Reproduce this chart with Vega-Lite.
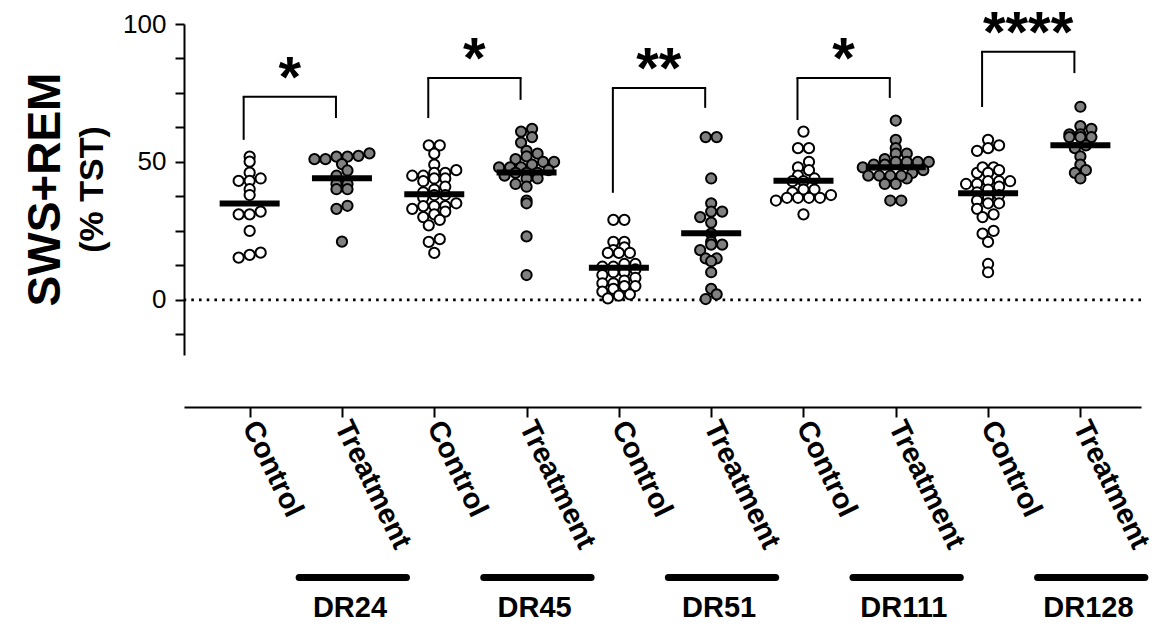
{
"$schema":"https://vega.github.io/schema/vega-lite/v6.json",
"width":957,"height":331,
"autosize":{"type":"none"},
"padding":{"left":184,"top":24,"right":17,"bottom":280},
"background":"white",
"config":{"view":{"stroke":null},"font":"Liberation Sans","axis":{"labelColor":"black","domainColor":"black","tickColor":"black","domainWidth":2,"tickWidth":2,"grid":false,"labelFont":"Liberation Sans"}},
"title":{"text":"SWS+REM","subtitle":"(% TST)","orient":"left","anchor":"middle","frame":"group","font":"Liberation Sans","fontSize":46,"fontWeight":"bold","color":"black","subtitleFont":"Liberation Sans","subtitleFontSize":34,"subtitleFontWeight":"bold","subtitleColor":"black","subtitlePadding":6,"offset":12},
"datasets":{
"pts":[
{"s":"DR24 Control","v":51.9},{"s":"DR24 Control","v":50.1},{"s":"DR24 Control","v":46.1},{"s":"DR24 Control","v":43.1},{"s":"DR24 Control","v":43.1},{"s":"DR24 Control","v":44.0},{"s":"DR24 Control","v":40.1},{"s":"DR24 Control","v":38.0},{"s":"DR24 Control","v":32.0},{"s":"DR24 Control","v":31.0},{"s":"DR24 Control","v":31.0},{"s":"DR24 Control","v":25.0},{"s":"DR24 Control","v":15.3},{"s":"DR24 Control","v":17.1},{"s":"DR24 Control","v":16.3},
{"s":"DR24 Treatment","v":51.0},{"s":"DR24 Treatment","v":51.9},{"s":"DR24 Treatment","v":53.1},{"s":"DR24 Treatment","v":52.2},{"s":"DR24 Treatment","v":51.0},{"s":"DR24 Treatment","v":51.9},{"s":"DR24 Treatment","v":49.2},{"s":"DR24 Treatment","v":46.9},{"s":"DR24 Treatment","v":45.0},{"s":"DR24 Treatment","v":42.0},{"s":"DR24 Treatment","v":42.0},{"s":"DR24 Treatment","v":40.1},{"s":"DR24 Treatment","v":40.1},{"s":"DR24 Treatment","v":33.0},{"s":"DR24 Treatment","v":34.1},{"s":"DR24 Treatment","v":21.1},
{"s":"DR45 Control","v":56},{"s":"DR45 Control","v":56},{"s":"DR45 Control","v":53},{"s":"DR45 Control","v":49},{"s":"DR45 Control","v":47},{"s":"DR45 Control","v":46},{"s":"DR45 Control","v":46},{"s":"DR45 Control","v":45},{"s":"DR45 Control","v":45},{"s":"DR45 Control","v":44},{"s":"DR45 Control","v":44},{"s":"DR45 Control","v":43},{"s":"DR45 Control","v":41},{"s":"DR45 Control","v":40},{"s":"DR45 Control","v":39},{"s":"DR45 Control","v":38},{"s":"DR45 Control","v":38},{"s":"DR45 Control","v":37},{"s":"DR45 Control","v":35},{"s":"DR45 Control","v":34},{"s":"DR45 Control","v":34},{"s":"DR45 Control","v":34},{"s":"DR45 Control","v":33},{"s":"DR45 Control","v":32},{"s":"DR45 Control","v":31},{"s":"DR45 Control","v":30},{"s":"DR45 Control","v":29},{"s":"DR45 Control","v":27},{"s":"DR45 Control","v":22},{"s":"DR45 Control","v":21},{"s":"DR45 Control","v":17},
{"s":"DR45 Treatment","v":62},{"s":"DR45 Treatment","v":61},{"s":"DR45 Treatment","v":59},{"s":"DR45 Treatment","v":57},{"s":"DR45 Treatment","v":54},{"s":"DR45 Treatment","v":53},{"s":"DR45 Treatment","v":52},{"s":"DR45 Treatment","v":51},{"s":"DR45 Treatment","v":50},{"s":"DR45 Treatment","v":50},{"s":"DR45 Treatment","v":49},{"s":"DR45 Treatment","v":48},{"s":"DR45 Treatment","v":48},{"s":"DR45 Treatment","v":48},{"s":"DR45 Treatment","v":47},{"s":"DR45 Treatment","v":46},{"s":"DR45 Treatment","v":46},{"s":"DR45 Treatment","v":46},{"s":"DR45 Treatment","v":45},{"s":"DR45 Treatment","v":44},{"s":"DR45 Treatment","v":44},{"s":"DR45 Treatment","v":42},{"s":"DR45 Treatment","v":41},{"s":"DR45 Treatment","v":36},{"s":"DR45 Treatment","v":35},{"s":"DR45 Treatment","v":23},{"s":"DR45 Treatment","v":9},
{"s":"DR51 Control","v":29},{"s":"DR51 Control","v":29},{"s":"DR51 Control","v":21},{"s":"DR51 Control","v":21},{"s":"DR51 Control","v":19},{"s":"DR51 Control","v":18},{"s":"DR51 Control","v":17},{"s":"DR51 Control","v":17},{"s":"DR51 Control","v":17},{"s":"DR51 Control","v":13},{"s":"DR51 Control","v":13},{"s":"DR51 Control","v":12},{"s":"DR51 Control","v":12},{"s":"DR51 Control","v":11},{"s":"DR51 Control","v":10},{"s":"DR51 Control","v":10},{"s":"DR51 Control","v":9},{"s":"DR51 Control","v":8},{"s":"DR51 Control","v":7},{"s":"DR51 Control","v":6},{"s":"DR51 Control","v":5},{"s":"DR51 Control","v":6},{"s":"DR51 Control","v":5},{"s":"DR51 Control","v":4},{"s":"DR51 Control","v":2},{"s":"DR51 Control","v":3},{"s":"DR51 Control","v":0.5},{"s":"DR51 Control","v":1.5},
{"s":"DR51 Treatment","v":59},{"s":"DR51 Treatment","v":59},{"s":"DR51 Treatment","v":44},{"s":"DR51 Treatment","v":35},{"s":"DR51 Treatment","v":32},{"s":"DR51 Treatment","v":32},{"s":"DR51 Treatment","v":30},{"s":"DR51 Treatment","v":28},{"s":"DR51 Treatment","v":24},{"s":"DR51 Treatment","v":21},{"s":"DR51 Treatment","v":20},{"s":"DR51 Treatment","v":20},{"s":"DR51 Treatment","v":18},{"s":"DR51 Treatment","v":15},{"s":"DR51 Treatment","v":15},{"s":"DR51 Treatment","v":14},{"s":"DR51 Treatment","v":10},{"s":"DR51 Treatment","v":4},{"s":"DR51 Treatment","v":2},{"s":"DR51 Treatment","v":0.3},
{"s":"DR111 Control","v":61},{"s":"DR111 Control","v":55},{"s":"DR111 Control","v":55},{"s":"DR111 Control","v":50},{"s":"DR111 Control","v":48},{"s":"DR111 Control","v":47},{"s":"DR111 Control","v":45},{"s":"DR111 Control","v":44},{"s":"DR111 Control","v":43},{"s":"DR111 Control","v":43},{"s":"DR111 Control","v":40},{"s":"DR111 Control","v":40},{"s":"DR111 Control","v":39},{"s":"DR111 Control","v":38},{"s":"DR111 Control","v":37},{"s":"DR111 Control","v":37},{"s":"DR111 Control","v":37},{"s":"DR111 Control","v":37},{"s":"DR111 Control","v":36},{"s":"DR111 Control","v":31},
{"s":"DR111 Treatment","v":65},{"s":"DR111 Treatment","v":58},{"s":"DR111 Treatment","v":55},{"s":"DR111 Treatment","v":53},{"s":"DR111 Treatment","v":53},{"s":"DR111 Treatment","v":51},{"s":"DR111 Treatment","v":50},{"s":"DR111 Treatment","v":50},{"s":"DR111 Treatment","v":50},{"s":"DR111 Treatment","v":50},{"s":"DR111 Treatment","v":49},{"s":"DR111 Treatment","v":49},{"s":"DR111 Treatment","v":48},{"s":"DR111 Treatment","v":47},{"s":"DR111 Treatment","v":46},{"s":"DR111 Treatment","v":45},{"s":"DR111 Treatment","v":45},{"s":"DR111 Treatment","v":45},{"s":"DR111 Treatment","v":44},{"s":"DR111 Treatment","v":45},{"s":"DR111 Treatment","v":42},{"s":"DR111 Treatment","v":42},{"s":"DR111 Treatment","v":36},{"s":"DR111 Treatment","v":36},
{"s":"DR128 Control","v":58},{"s":"DR128 Control","v":56},{"s":"DR128 Control","v":55},{"s":"DR128 Control","v":54},{"s":"DR128 Control","v":46},{"s":"DR128 Control","v":48},{"s":"DR128 Control","v":48},{"s":"DR128 Control","v":47},{"s":"DR128 Control","v":46},{"s":"DR128 Control","v":43},{"s":"DR128 Control","v":43},{"s":"DR128 Control","v":43},{"s":"DR128 Control","v":42},{"s":"DR128 Control","v":42},{"s":"DR128 Control","v":39},{"s":"DR128 Control","v":41},{"s":"DR128 Control","v":38},{"s":"DR128 Control","v":40},{"s":"DR128 Control","v":37},{"s":"DR128 Control","v":35},{"s":"DR128 Control","v":35},{"s":"DR128 Control","v":36},{"s":"DR128 Control","v":33},{"s":"DR128 Control","v":31},{"s":"DR128 Control","v":30},{"s":"DR128 Control","v":25},{"s":"DR128 Control","v":24},{"s":"DR128 Control","v":21},{"s":"DR128 Control","v":13},{"s":"DR128 Control","v":10},
{"s":"DR128 Treatment","v":70},{"s":"DR128 Treatment","v":63},{"s":"DR128 Treatment","v":62},{"s":"DR128 Treatment","v":60},{"s":"DR128 Treatment","v":60},{"s":"DR128 Treatment","v":59},{"s":"DR128 Treatment","v":59},{"s":"DR128 Treatment","v":59},{"s":"DR128 Treatment","v":56},{"s":"DR128 Treatment","v":55},{"s":"DR128 Treatment","v":52},{"s":"DR128 Treatment","v":49},{"s":"DR128 Treatment","v":47},{"s":"DR128 Treatment","v":46},{"s":"DR128 Treatment","v":44}
],
"legs":[
{"g":"DR24","s":"DR24 Control","top":73.6,"bot":58},{"g":"DR24","s":"DR24 Treatment","top":73.6,"bot":65.9},
{"g":"DR45","s":"DR45 Control","top":80.4,"bot":65.9},{"g":"DR45","s":"DR45 Treatment","top":80.4,"bot":72.5},
{"g":"DR51","s":"DR51 Control","top":76.8,"bot":38.8},{"g":"DR51","s":"DR51 Treatment","top":76.8,"bot":69.6},
{"g":"DR111","s":"DR111 Control","top":80.4,"bot":65.2},{"g":"DR111","s":"DR111 Treatment","top":80.4,"bot":73.2},
{"g":"DR128","s":"DR128 Control","top":89.9,"bot":69.9},{"g":"DR128","s":"DR128 Treatment","top":89.9,"bot":82.2}
],
"grp":[
{"c":"DR24 Control","t":"DR24 Treatment","lab":"DR24","star":"*","top":73.6},
{"c":"DR45 Control","t":"DR45 Treatment","lab":"DR45","star":"*","top":80.4},
{"c":"DR51 Control","t":"DR51 Treatment","lab":"DR51","star":"**","top":76.8},
{"c":"DR111 Control","t":"DR111 Treatment","lab":"DR111","star":"*","top":80.4},
{"c":"DR128 Control","t":"DR128 Treatment","lab":"DR128","star":"****","top":89.9}
]
},
"layer":[
{"data":{"values":[{}]},"mark":{"type":"rule","color":"black","strokeWidth":2.6,"strokeDash":[2.6,5.1]},"encoding":{"y":{"datum":0,"type":"quantitative","scale":{"domain":[-20,100],"nice":false,"zero":false}}}},
{"data":{"name":"pts"},
 "transform":[
  {"bin":{"step":3},"field":"v","as":"vb"},
  {"window":[{"op":"row_number","as":"k"}],"groupby":["s","vb"],"sort":[{"field":"v"}]},
  {"joinaggregate":[{"op":"count","as":"n"}],"groupby":["s","vb"]},
  {"calculate":"datum.k - (datum.n + 1) / 2","as":"slot"}
 ],
 "mark":{"type":"circle","size":105,"stroke":"black","strokeWidth":2,"opacity":1},
 "encoding":{
  "x":{"field":"s","type":"nominal","title":null,"scale":{"type":"point","domain":["DR24 Control","DR24 Treatment","DR45 Control","DR45 Treatment","DR51 Control","DR51 Treatment","DR111 Control","DR111 Treatment","DR128 Control","DR128 Treatment"],"padding":0.684,"align":0.52},
   "axis":{"orient":"bottom","offset":52,"tickSize":10,"labelAngle":64,"labelAlign":"left","labelBaseline":"middle","labelFontSize":29,"labelFontWeight":"bold","labelPadding":5,"labelOverlap":false,"labelBound":false,"labelLimit":0,"labelExpr":"split(datum.label,' ')[1]"}},
  "xOffset":{"field":"slot","type":"quantitative","scale":{"domain":[-1,1],"range":[-11,11]}},
  "y":{"field":"v","type":"quantitative","title":null,"scale":{"domain":[-20,100],"nice":false,"zero":false},
   "axis":{"values":[-12.5,0,12.5,25,37.5,50,62.5,75,87.5,100],"tickCount":40,"labelExpr":"datum.value % 50 == 0 ? datum.label : ''","labelOverlap":false,"tickSize":9,"labelFontSize":26,"labelPadding":9}},
  "fill":{"condition":{"test":"indexof(datum.s,'Control') >= 0","value":"white"},"value":"#808080"}
 }},
{"data":{"name":"pts"},"mark":{"type":"tick","color":"black","thickness":6,"size":60},
 "encoding":{
  "x":{"field":"s","type":"nominal","title":null,"scale":{"type":"point","domain":["DR24 Control","DR24 Treatment","DR45 Control","DR45 Treatment","DR51 Control","DR51 Treatment","DR111 Control","DR111 Treatment","DR128 Control","DR128 Treatment"],"padding":0.684,"align":0.52}},
  "y":{"aggregate":"mean","field":"v","type":"quantitative","title":null,"scale":{"domain":[-20,100],"nice":false,"zero":false}}
 }},
{"data":{"name":"legs"},"mark":{"type":"rule","color":"black","strokeWidth":2,"xOffset":-6},
 "encoding":{
  "x":{"field":"s","type":"nominal","title":null,"scale":{"type":"point","domain":["DR24 Control","DR24 Treatment","DR45 Control","DR45 Treatment","DR51 Control","DR51 Treatment","DR111 Control","DR111 Treatment","DR128 Control","DR128 Treatment"],"padding":0.684,"align":0.52}},
  "y":{"field":"top","type":"quantitative","title":null,"scale":{"domain":[-20,100],"nice":false,"zero":false}},
  "y2":{"field":"bot"}
 }},
{"data":{"name":"legs"},"mark":{"type":"line","color":"black","strokeWidth":2,"xOffset":-6,"strokeCap":"square"},
 "encoding":{
  "x":{"field":"s","type":"nominal","title":null,"scale":{"type":"point","domain":["DR24 Control","DR24 Treatment","DR45 Control","DR45 Treatment","DR51 Control","DR51 Treatment","DR111 Control","DR111 Treatment","DR128 Control","DR128 Treatment"],"padding":0.684,"align":0.52}},
  "y":{"field":"top","type":"quantitative","title":null,"scale":{"domain":[-20,100],"nice":false,"zero":false}},
  "detail":{"field":"g"}
 }},
{"data":{"name":"grp"},"mark":{"type":"text","font":"Liberation Sans","fontSize":58,"fontWeight":"bold","align":"center","baseline":"alphabetic","dx":40,"dy":0,"color":"black"},
 "encoding":{
  "x":{"field":"c","type":"nominal","title":null,"scale":{"type":"point","domain":["DR24 Control","DR24 Treatment","DR45 Control","DR45 Treatment","DR51 Control","DR51 Treatment","DR111 Control","DR111 Treatment","DR128 Control","DR128 Treatment"],"padding":0.684,"align":0.52}},
  "y":{"field":"top","type":"quantitative","title":null,"scale":{"domain":[-20,100],"nice":false,"zero":false}},
  "text":{"field":"star"}
 }},
{"data":{"name":"grp"},"mark":{"type":"rule","color":"black","strokeWidth":7,"strokeCap":"round","xOffset":49.5,"x2Offset":64.5},
 "encoding":{
  "x":{"field":"c","type":"nominal","title":null,"scale":{"type":"point","domain":["DR24 Control","DR24 Treatment","DR45 Control","DR45 Treatment","DR51 Control","DR51 Treatment","DR111 Control","DR111 Treatment","DR128 Control","DR128 Treatment"],"padding":0.684,"align":0.52}},
  "x2":{"field":"t"},
  "y":{"datum":-100.7,"type":"quantitative","scale":{"domain":[-20,100],"nice":false,"zero":false}}
 }},
{"data":{"name":"grp"},"mark":{"type":"text","font":"Liberation Sans","fontSize":29,"fontWeight":"bold","align":"center","baseline":"middle","dx":8,"color":"black"},
 "encoding":{
  "x":{"field":"t","type":"nominal","title":null,"scale":{"type":"point","domain":["DR24 Control","DR24 Treatment","DR45 Control","DR45 Treatment","DR51 Control","DR51 Treatment","DR111 Control","DR111 Treatment","DR128 Control","DR128 Treatment"],"padding":0.684,"align":0.52}},
  "y":{"datum":-111.6,"type":"quantitative","scale":{"domain":[-20,100],"nice":false,"zero":false}},
  "text":{"field":"lab"}
 }}
]
}
